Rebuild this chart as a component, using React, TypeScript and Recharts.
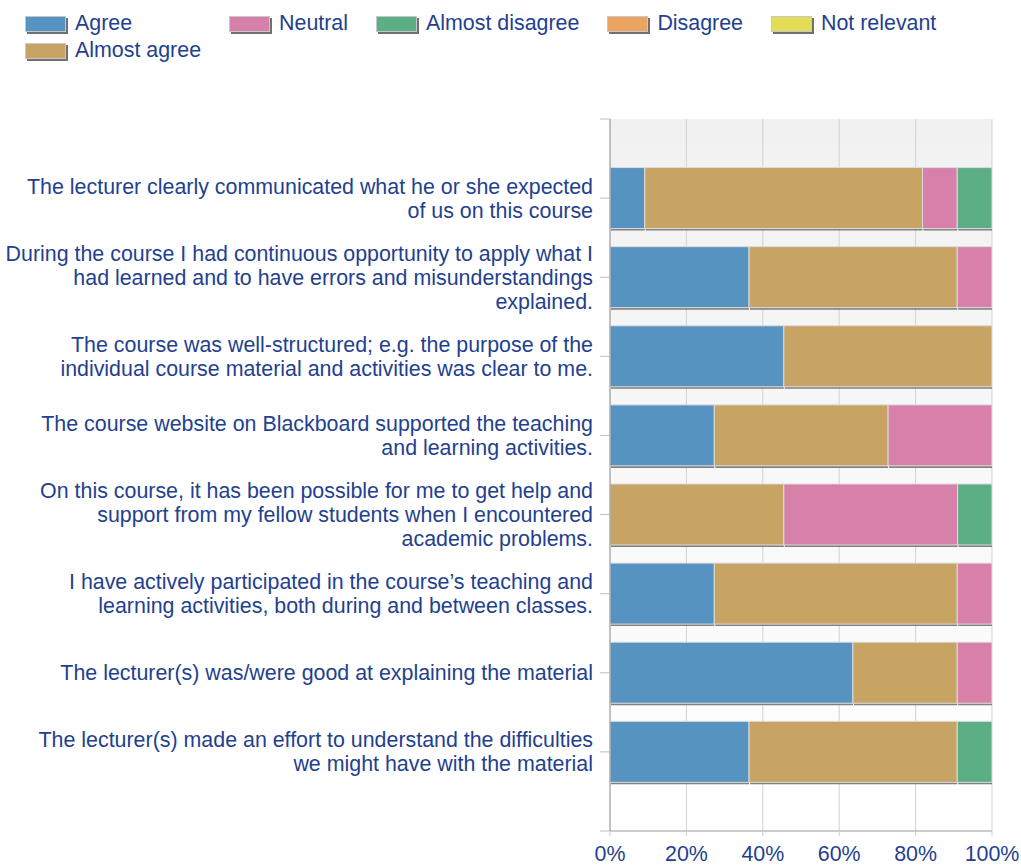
import React from 'react';
import { BarChart, Bar, XAxis, YAxis, CartesianGrid } from 'recharts';

const FONT = '"Liberation Sans", Arial, Helvetica, sans-serif';
const TEXT = '#233f8f';
const FS = 21.4;

const categories: string[][] = [
  ['The lecturer clearly communicated what he or she expected', 'of us on this course'],
  ['During the course I had continuous opportunity to apply what I', 'had learned and to have errors and misunderstandings', 'explained.'],
  ['The course was well-structured; e.g. the purpose of the', 'individual course material and activities was clear to me.'],
  ['The course website on Blackboard supported the teaching', 'and learning activities.'],
  ['On this course, it has been possible for me to get help and', 'support from my fellow students when I encountered', 'academic problems.'],
  ['I have actively participated in the course\u2019s teaching and', 'learning activities, both during and between classes.'],
  ['The lecturer(s) was/were good at explaining the material'],
  ['The lecturer(s) made an effort to understand the difficulties', 'we might have with the material'],
];

const agree = [9.1, 36.4, 45.5, 27.3, 0, 27.3, 63.6, 36.4];
const almostAgree = [72.7, 54.5, 54.5, 45.5, 45.5, 63.6, 27.3, 54.5];
const neutral = [9.1, 9.1, 0, 27.3, 45.5, 9.1, 9.1, 0];
const almostDisagree = [9.1, 0, 0, 0, 9.1, 0, 0, 9.1];
const disagree = [0, 0, 0, 0, 0, 0, 0, 0];
const notRelevant = [0, 0, 0, 0, 0, 0, 0, 0];

const xTicks = [0, 20, 40, 60, 80, 100];

const series = [
  { key: 'Agree', values: agree, color: '#5793c1' },
  { key: 'Almost agree', values: almostAgree, color: '#c7a364' },
  { key: 'Neutral', values: neutral, color: '#d780aa' },
  { key: 'Almost disagree', values: almostDisagree, color: '#5caf84' },
  { key: 'Disagree', values: disagree, color: '#eca462' },
  { key: 'Not relevant', values: notRelevant, color: '#e2dd55' },
];

const legendOrder = ['Agree', 'Neutral', 'Almost disagree', 'Disagree', 'Not relevant', 'Almost agree'];

const seriesKeys = series.map((s) => s.key);

const data = categories.map((c, i) => {
  const row: any = { pos: i + 1 };
  series.forEach((s) => {
    row[s.key] = s.values[i];
  });
  return row;
});

const yTicks = [0, 1, 2, 3, 4, 5, 6, 7, 8, 9];

const makeShape = (key: string) => (props: any) => {
  const { x, y, width, height, fill, payload } = props;
  if (!width || width <= 0 || !height) return <g />;
  const idx = seriesKeys.indexOf(key);
  const isLast = seriesKeys.slice(idx + 1).every((k) => !payload || !payload[k]);
  return (
    <g>
      <line x1={x + 1} x2={x + width + (isLast ? 2 : 0)} y1={y + height + 1} y2={y + height + 1} stroke="#6a6a6a" strokeWidth={2} strokeOpacity={0.85} />
      {isLast && (
        <line x1={x + width + 1} x2={x + width + 1} y1={y + 1} y2={y + height + 2} stroke="#6a6a6a" strokeWidth={2} strokeOpacity={0.85} />
      )}
      <rect x={x} y={y} width={width} height={height} fill={fill} stroke="#dcdcdc" strokeWidth={1} />
    </g>
  );
};

const YTick = (props: any) => {
  const { x, y, payload } = props;
  const v = payload.value;
  if (v < 1 || v > categories.length) return <g />;
  const lines = categories[v - 1];
  const n = lines.length;
  return (
    <text x={x} y={y} textAnchor="end" fill={TEXT} fontSize={FS} fontFamily={FONT}>
      {lines.map((l, i) => (
        <tspan key={i} x={x} y={y + (i - (n - 1) / 2) * 24} dy="0.35em">
          {l}
        </tspan>
      ))}
    </text>
  );
};

const Legend = () => (
  <div
    style={{
      position: 'absolute',
      left: 25,
      top: 10,
      display: 'grid',
      gridTemplateColumns: 'auto auto auto auto auto',
      columnGap: 28,
      gridAutoRows: '27px',
      alignItems: 'center',
      fontFamily: FONT,
      fontSize: FS,
      color: TEXT,
      justifyContent: 'start',
      zIndex: 2,
    }}
  >
    {legendOrder.map((k) => {
      const s = series.find((q) => q.key === k)!;
      return (
        <div key={k} style={{ display: 'flex', alignItems: 'center', whiteSpace: 'nowrap' }}>
          <span
            style={{
              display: 'inline-block',
              width: 39,
              height: 14,
              background: s.color,
              border: '1px solid #c8c8c8',
              boxShadow: '2px 2px 0 #707070',
              marginRight: 9,
            }}
          />
          <span>{k}</span>
        </div>
      );
    })}
  </div>
);

export default function App() {
  return (
    <div style={{ position: 'absolute', left: 0, top: 0, width: 1021, height: 865, overflow: 'hidden', fontFamily: FONT, background: '#fff' }}>
      <Legend />
      <BarChart
        width={1021}
        height={865}
        layout="vertical"
        data={data}
        margin={{ top: 119, right: 29, bottom: 0, left: 0 }}
      >
        <defs>
          <linearGradient id="bgGrad" x1="0" y1="0" x2="0" y2="1">
            <stop offset="0%" stopColor="#f1f1f1" />
            <stop offset="100%" stopColor="#ffffff" />
          </linearGradient>
        </defs>
        <CartesianGrid horizontal={false} stroke="#d2d2d2" fill="url(#bgGrad)" fillOpacity={1} />
        <XAxis
          type="number"
          domain={[0, 100]}
          allowDataOverflow
          ticks={xTicks}
          tickFormatter={(v: number) => `${v}%`}
          height={34}
          tickSize={5}
          tickMargin={10}
          tick={{ fill: TEXT, fontSize: FS, fontFamily: FONT }}
          axisLine={{ stroke: '#9a9a9a' }}
          tickLine={{ stroke: '#cfcfcf' }}
          interval={0}
        />
        <YAxis
          type="number"
          dataKey="pos"
          domain={[0, 9]}
          ticks={yTicks}
          width={610}
          tickSize={10}
          tickMargin={7}
          tick={<YTick />}
          axisLine={{ stroke: '#9a9a9a' }}
          tickLine={{ stroke: '#bdbdbd' }}
          interval={0}
          allowDataOverflow
        />
        {series.map((s) => (
          <Bar
            key={s.key}
            dataKey={s.key}
            stackId="a"
            fill={s.color}
            barSize={61}
            isAnimationActive={false}
            shape={makeShape(s.key)}
          />
        ))}
      </BarChart>
    </div>
  );
}
